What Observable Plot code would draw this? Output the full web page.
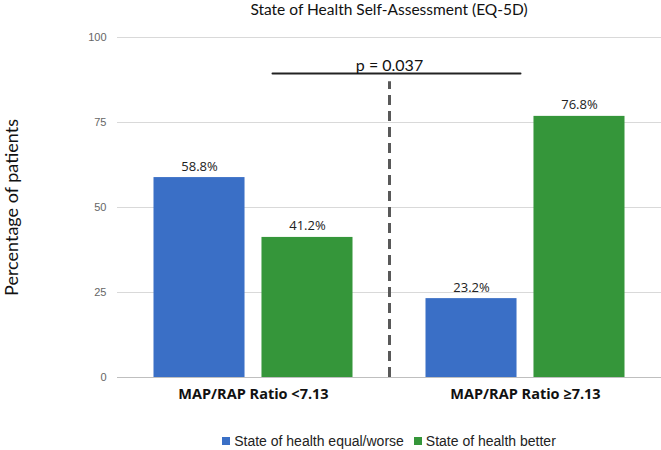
<!DOCTYPE html>
<html>
<head>
<meta charset="utf-8">
<script src="https://cdn.jsdelivr.net/npm/d3@7"></script>
<script src="https://cdn.jsdelivr.net/npm/@observablehq/plot@0.6"></script>
<style>
  html, body { margin: 0; padding: 0; background: #fff; }
  #wrap { width: 661px; height: 450px; position: relative; overflow: hidden; }
  #title { margin-left: 117px; width: 544px; height: 22px; line-height: 18px; padding-top: 0; text-align: center;
           font-family: Lato, "Open Sans", sans-serif; font-size: 15.5px; color: #111; box-sizing: border-box; }
  #legend { margin-left: 117px; width: 544px; padding-top: 15px; line-height: 18px; text-align: center;
            font-family: "Liberation Sans", Arial, sans-serif; font-size: 14px; color: #222; }
  .item { display: inline-block; margin: 0 5px; }
  .sw { display: inline-block; width: 8px; height: 8px; margin-right: 4px; vertical-align: 1px; }
</style>
</head>
<body>
<div id="wrap">
  <div id="title"></div>
  <div id="chart"></div>
  <div id="legend"></div>
</div>
<script>
// ---- data ----
const title = "State of Health Self-Assessment (EQ-5D)";
const yLabel = "Percentage of patients";
const groups = ["MAP/RAP Ratio <7.13", "MAP/RAP Ratio ≥7.13"];
const series = ["State of health equal/worse", "State of health better"];
const worse = [58.8, 23.2];
const better = [41.2, 76.8];
const yTicks = [0, 25, 50, 75, 100];
const pLabel = "p = 0.037";
const pLineValue = 89.4;   // height of the significance bracket (% axis)
const dashTopValue = 87;   // top of the dashed divider (% axis)
const colors = ["#3A6FC6", "#35963A"];

// ---- table ----
const rows = [];
groups.forEach((g, i) => {
  rows.push({group: g, series: series[0], value: worse[i]});
  rows.push({group: g, series: series[1], value: better[i]});
});

// ---- layout ----
const W = 661, H = 395, mL = 117, mR = 0, mT = 15, mB = 40;
const step = (W - mL - mR) / groups.length;
const sub = d3.scaleBand().domain(series).range([0, step]).paddingInner(0.157).paddingOuter(0.338);
const bw = sub.bandwidth();

const font = "Lato, 'Open Sans', sans-serif";

const barMarks = series.flatMap((s) => [
  Plot.barY(rows.filter((d) => d.series === s), {
    x: "group", y: "value", fill: "series",
    insetLeft: sub(s), insetRight: step - sub(s) - bw
  }),
  Plot.text(rows.filter((d) => d.series === s), {
    x: "group", y: "value", text: (d) => d.value.toFixed(1) + "%",
    dx: sub(s) + bw / 2 - step / 2, dy: -7, lineAnchor: "bottom",
    fontSize: 13, fill: "#222", fontFamily: "'Open Sans', sans-serif"
  })
]);

const chart = Plot.plot({
  width: W, height: H,
  marginLeft: mL, marginRight: mR, marginTop: mT, marginBottom: mB,
  style: {background: "transparent"},
  x: {type: "band", domain: groups, padding: 0, label: null},
  y: {domain: [0, 100], label: null},
  color: {domain: series, range: colors},
  marks: [
    Plot.gridY(yTicks.filter((t) => t > 0), {stroke: "#d9d9d9", strokeOpacity: 1, strokeWidth: 1}),
    Plot.axisY(yTicks, {tickSize: 0, tickPadding: 11, fontSize: 11, fill: "#666",
      fontFamily: "'Liberation Sans', Arial, sans-serif", label: null}),
    Plot.axisX({tickSize: 0, tickPadding: 11, fontSize: 14.5, fontWeight: "bold", fill: "#111",
      fontFamily: "'Open Sans', sans-serif", label: null}),
    ...barMarks,
    Plot.ruleY([0], {stroke: "#bfbfbf", strokeWidth: 1}),
    Plot.ruleX([dashTopValue], {x: null, y1: 0, y2: (d) => d, stroke: "#595959",
      strokeWidth: 3, strokeDasharray: "10,6"}),
    Plot.arrow([{a: groups[0], b: groups[1], y: pLineValue}], {
      x1: "a", x2: "b", y1: "y", y2: "y", headLength: 0, insetStart: 19, insetEnd: 5,
      stroke: "#222", strokeWidth: 2
    }),
    Plot.text([pLabel], {y: pLineValue, dy: -3, lineAnchor: "bottom", fontSize: 16,
      fill: "#111", fontFamily: font}),
    Plot.text([yLabel], {frameAnchor: "left", rotate: -90, dx: -105, textAnchor: "middle",
      fontSize: 18, fill: "#111", fontFamily: font})
  ]
});

document.getElementById("title").textContent = title;
document.getElementById("chart").appendChild(chart);
const leg = document.getElementById("legend");
series.forEach((s, i) => {
  const it = document.createElement("span");
  it.className = "item";
  const sw = document.createElement("span");
  sw.className = "sw";
  sw.style.background = colors[i];
  it.appendChild(sw);
  it.appendChild(document.createTextNode(s));
  leg.appendChild(it);
});
</script>
</body>
</html>
